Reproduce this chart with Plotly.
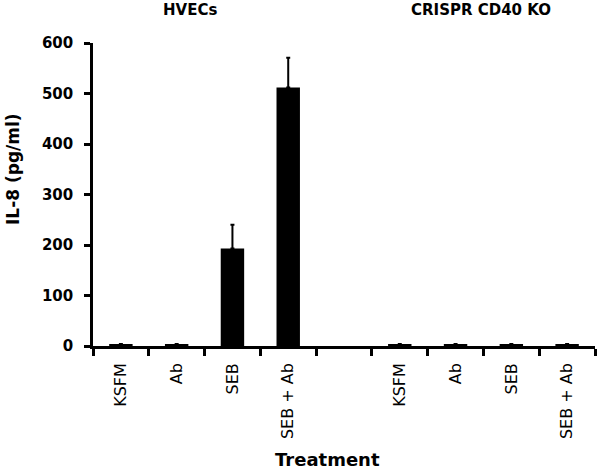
import plotly.graph_objects as go

treatments = ["KSFM", "Ab", "SEB", "SEB + Ab", "", "KSFM", "Ab", "SEB", "SEB + Ab"]
il8_values = [3, 3, 193, 512, None, 3, 3, 3, 3]
il8_errors = [1, 1, 47, 59, 0, 1, 1, 1, 1]
group_titles = ["HVECs", "CRISPR CD40 KO"]
y_ticks = [0, 100, 200, 300, 400, 500, 600]

xpos = list(range(len(treatments)))
FONT = "'DejaVu Sans', sans-serif"

L, R, T, B = 93, 5, 43, 125
PW, PH = 600 - L - R, 471 - T - B

def px_x(x):
    return (x - L) / PW

def px_y(y):
    return (471 - B - y) / PH

fig = go.Figure()
fig.add_trace(go.Bar(
    x=xpos, y=il8_values, width=0.42,
    marker=dict(color="black", line=dict(width=0)),
    error_y=dict(type="data", array=il8_errors, arrayminus=[0]*len(il8_errors),
                 symmetric=False, color="black", thickness=2, width=2),
))

fig.update_layout(
    width=600, height=471,
    margin=dict(l=L, r=R, t=T, b=B),
    plot_bgcolor="white", paper_bgcolor="white",
    showlegend=False,
    font=dict(family=FONT, color="black"),
    xaxis=dict(
        range=[-0.5, 8.5], tickvals=xpos, ticktext=treatments, tickangle=-90,
        ticks="", showgrid=False, zeroline=False, ticklabelstandoff=8,
        showline=True, linecolor="black", linewidth=2.5,
        tickfont=dict(size=16, family=FONT, color="black"),
        minor=dict(tickvals=[i - 0.5 for i in range(len(treatments) + 1)],
                   ticks="outside", ticklen=7, tickwidth=2.5, tickcolor="black",
                   showgrid=False),
    ),
    yaxis=dict(
        range=[0, 600], tickvals=y_ticks, ticks="outside", ticklen=6, tickwidth=2.5,
        tickcolor="black", showgrid=False, zeroline=False, ticklabelstandoff=8,
        showline=True, linecolor="black", linewidth=2.5,
        tickfont=dict(size=15, family=FONT, color="black", weight="bold"),
    ),
)

fig.add_annotation(text="<b>IL-8 (pg/ml)</b>", xref="paper", yref="paper",
                   x=px_x(13), y=px_y(169), xanchor="center", yanchor="middle",
                   textangle=-90, showarrow=False,
                   font=dict(size=17, family=FONT, color="black"))
fig.add_annotation(text="<b>Treatment</b>", xref="paper", yref="paper",
                   x=px_x(327), y=px_y(460), xanchor="center", yanchor="middle",
                   showarrow=False, font=dict(size=18, family=FONT, color="black"))
for title, cx in zip(group_titles, [190, 481]):
    fig.add_annotation(text="<b>" + title + "</b>", xref="paper", yref="paper",
                       x=px_x(cx), y=px_y(10), xanchor="center", yanchor="middle",
                       showarrow=False, font=dict(size=15, family=FONT, color="black"))

fig.write_html("out.html", config={"displayModeBar": False},
               post_script="document.body.style.margin='0';")
